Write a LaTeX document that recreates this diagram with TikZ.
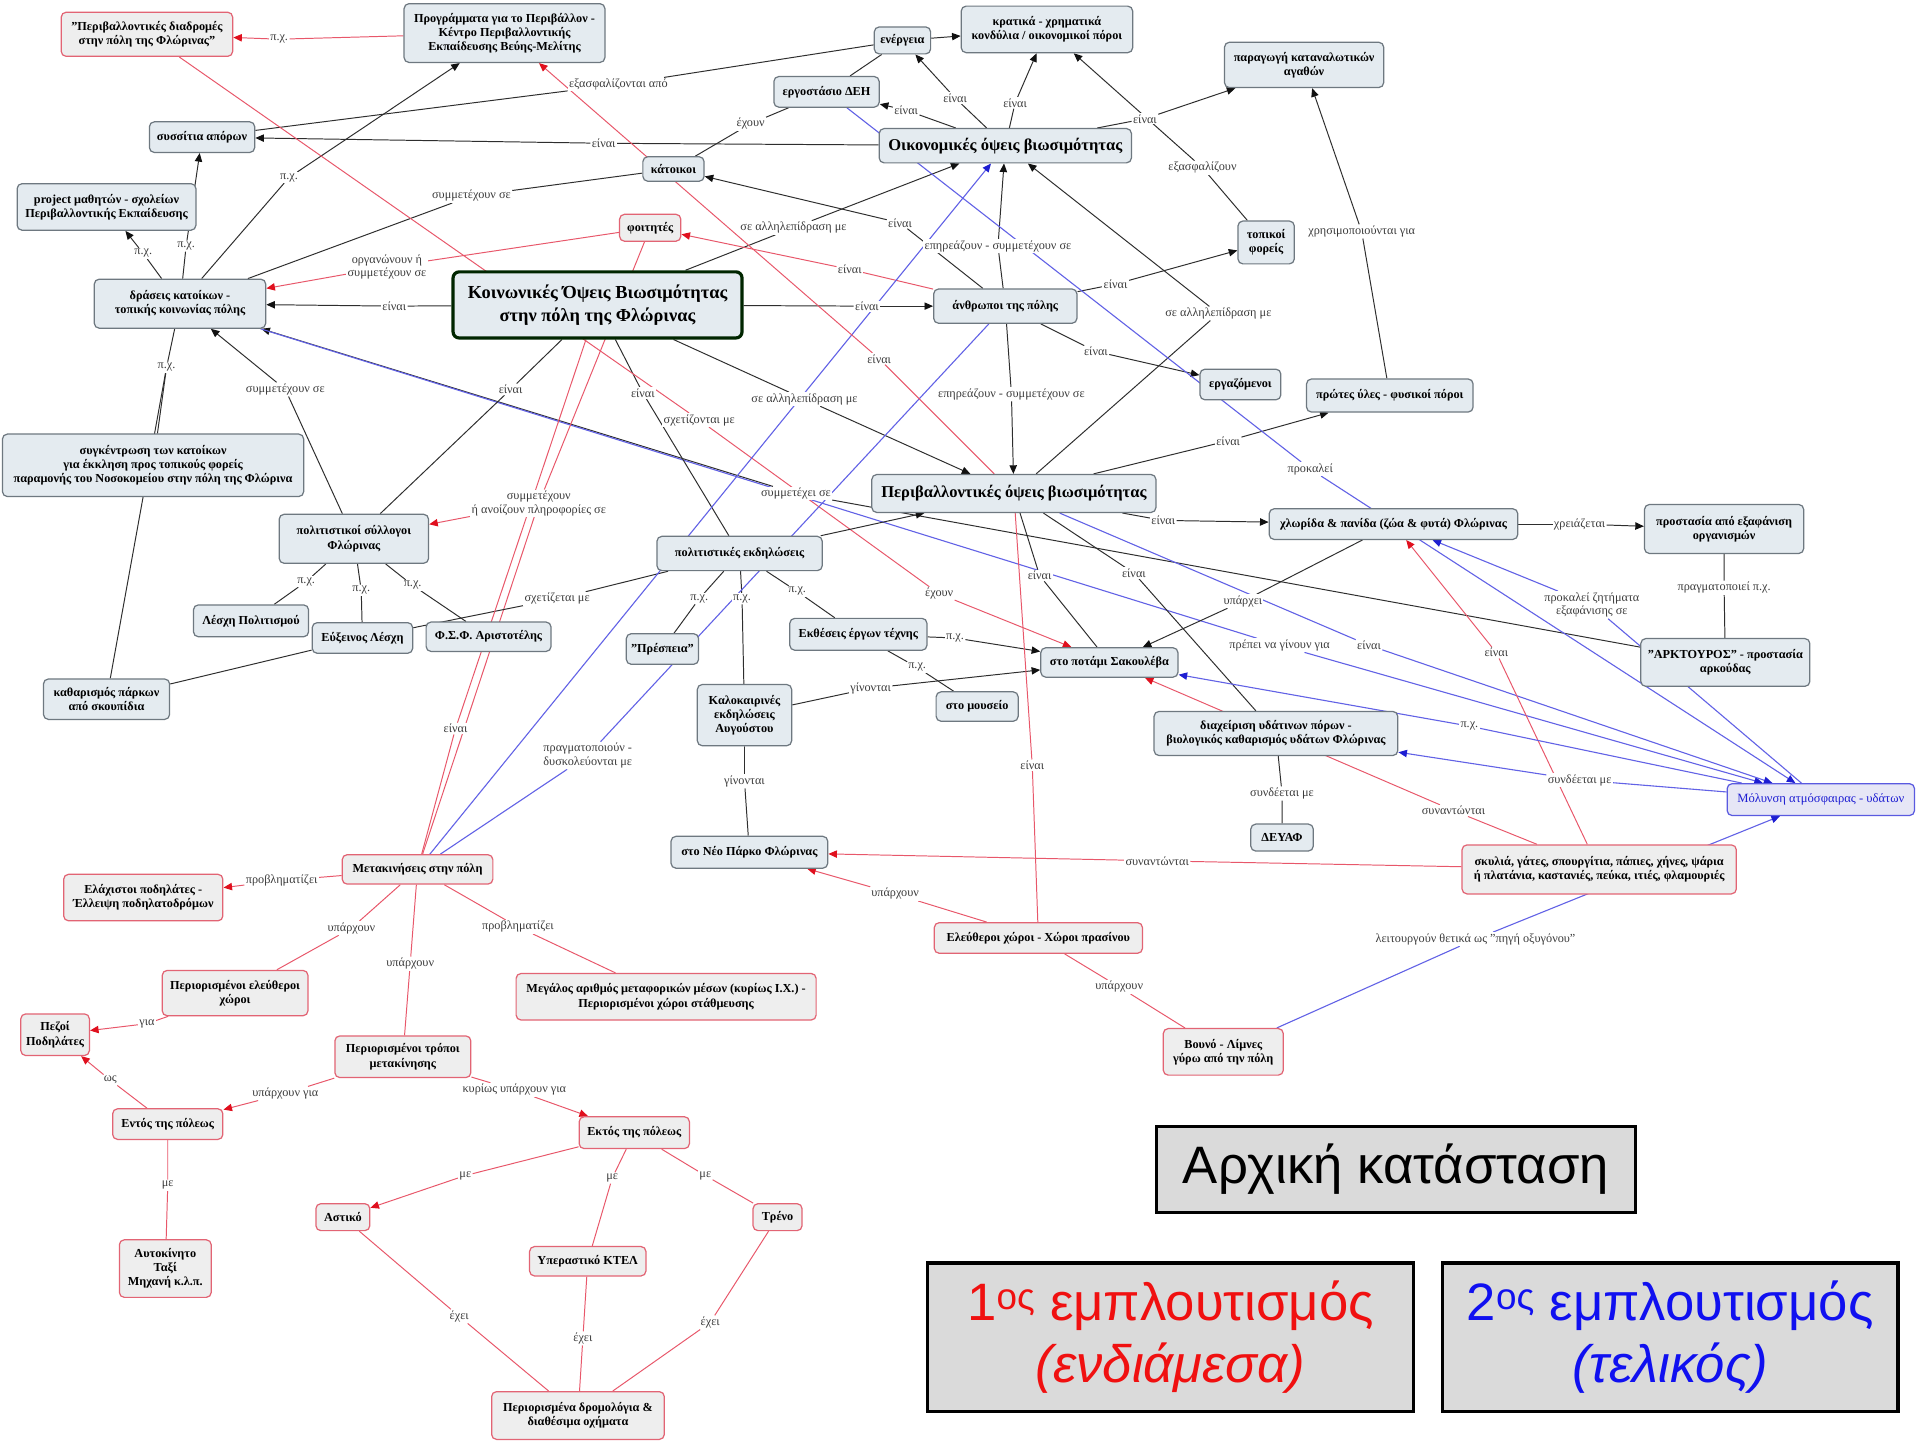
\documentclass[tikz,border=0pt]{standalone}
\usepackage{fontspec}
\setmainfont{Liberation Serif}
\newfontfamily\legendfont{Liberation Sans}
\usetikzlibrary{arrows.meta,backgrounds}

\pgfdeclarelayer{paper}
\pgfsetlayers{paper,background,main}

\definecolor{nodefill}{HTML}{E4EBF0}
\definecolor{nodefillr}{HTML}{EEEEEE}
\definecolor{nodeedge}{HTML}{6E7880}
\definecolor{noder}{HTML}{E26474}
\definecolor{nodeb}{HTML}{5A5AE0}
\definecolor{nodefillb}{HTML}{E6E6F6}
\definecolor{edgek}{HTML}{2E2E2E}
\definecolor{edger}{HTML}{E8576A}
\definecolor{edgeb}{HTML}{6262E6}
\definecolor{arrk}{HTML}{111111}
\definecolor{arrr}{HTML}{E0101E}
\definecolor{arrb}{HTML}{1E1ED2}
\definecolor{labtext}{HTML}{3C3C3C}
\definecolor{legred}{HTML}{F01010}
\definecolor{legblue}{HTML}{1010F0}
\definecolor{legfill}{HTML}{DADADA}

\tikzset{
  cn/.style={draw=nodeedge, fill=nodefill, rounded corners=4pt, line width=1pt,
    font=\bfseries\fontsize{10}{11.5}\selectfont, align=center, inner sep=2pt, text=black},
  rn/.style={cn, draw=noder, fill=nodefillr},
  bn/.style={cn, draw=nodeb, fill=nodefillb, text=arrb, font=\fontsize{10.3}{12}\selectfont},
  bignode/.style={cn, font=\bfseries\fontsize{13.5}{15}\selectfont},
  mainnode/.style={cn, draw=black!85!green, line width=2.6pt, rounded corners=5pt,
    font=\bfseries\fontsize{15}{18.5}\selectfont},
  lab/.style={fill=white, inner sep=1pt, font=\fontsize{10}{11}\selectfont, text=labtext, align=center},
  kl/.style={draw=edgek, line width=0.8pt},
  rl/.style={draw=edger, line width=0.8pt},
  bl/.style={draw=edgeb, line width=0.9pt},
  ka/.style={kl, -{Triangle[length=7pt,width=6pt,color=arrk]}},
  ra/.style={rl, -{Triangle[length=7pt,width=6pt,color=arrr]}},
  ba/.style={bl, -{Triangle[length=7pt,width=6pt,color=arrb]}},
  legbox/.style={draw=black, line width=2.6pt, fill=legfill, align=center,
    font=\legendfont\fontsize{43}{50}\selectfont, inner sep=4pt}
}

\begin{document}
\begin{tikzpicture}[x=1pt,y=-1pt]
\begin{pgfonlayer}{paper}
\fill[white] (0,0) rectangle (1568,1176);
\end{pgfonlayer}
\useasboundingbox (0,0) rectangle (1568,1176);

% ---------------- concepts ----------------
\node[rn, minimum width=140pt, minimum height=36pt] (diadromes) at (120,28) {"Περιβαλλοντικές διαδρομές\\στην πόλη της Φλώρινας"};
\node[cn, minimum width=164pt, minimum height=48pt] (progr) at (412,27) {Προγράμματα για το Περιβάλλον -\\Κέντρο Περιβαλλοντικής\\Εκπαίδευσης Βεύης-Μελίτης};
\node[cn, minimum width=46pt, minimum height=22pt] (energeia) at (737,33) {ενέργεια};
\node[cn, minimum width=140pt, minimum height=38pt] (kratika) at (855,24) {κρατικά - χρηματικά\\κονδύλια / οικονομικοί πόροι};
\node[cn, minimum width=130pt, minimum height=37pt] (paragogi) at (1065,53) {παραγωγή καταναλωτικών\\αγαθών};
\node[cn, minimum width=86pt, minimum height=25pt] (deh) at (675,75) {εργοστάσιο ΔΕΗ};
\node[cn, minimum width=86pt, minimum height=25pt] (syssitia) at (165,112) {συσσίτια απόρων};
\node[bignode, minimum width=206pt, minimum height=28pt] (oikon) at (821,119) {Οικονομικές όψεις βιωσιμότητας};
\node[cn, minimum width=50pt, minimum height=20pt] (katoikoi) at (550,138) {κάτοικοι};
\node[cn, minimum width=146pt, minimum height=38pt] (project) at (87,169) {project μαθητών - σχολείων\\Περιβαλλοντικής Εκπαίδευσης};
\node[rn, minimum width=50pt, minimum height=22pt] (foitites) at (531,186) {φοιτητές};
\node[cn, minimum width=46pt, minimum height=35pt] (topikoi) at (1034,198) {τοπικοί\\φορείς};
\node[cn, minimum width=140pt, minimum height=40pt] (draseis) at (147,248) {δράσεις κατοίκων -\\τοπικής κοινωνίας πόλης};
\node[mainnode, minimum width=236pt, minimum height=54pt] (main) at (488,249) {Κοινωνικές Όψεις Βιωσιμότητας\\στην πόλη της Φλώρινας};
\node[cn, minimum width=117pt, minimum height=28pt] (anthropoi) at (821,250) {άνθρωποι της πόλης};
\node[cn, minimum width=66pt, minimum height=25pt] (ergazomenoi) at (1013,314) {εργαζόμενοι};
\node[cn, minimum width=136pt, minimum height=27pt] (protes) at (1135,323) {πρώτες ύλες - φυσικοί πόροι};
\node[cn, minimum width=246pt, minimum height=51pt] (synkentrosi) at (125,380) {συγκέντρωση των κατοίκων\\για έκκληση προς τοπικούς φορείς\\παραμονής του Νοσοκομείου στην πόλη της Φλώρινα};
\node[bignode, minimum width=232pt, minimum height=31pt] (perival) at (828,403) {Περιβαλλοντικές όψεις βιωσιμότητας};
\node[cn, minimum width=203pt, minimum height=25pt] (chlorida) at (1138,428) {χλωρίδα \& πανίδα (ζώα \& φυτά) Φλώρινας};
\node[cn, minimum width=130pt, minimum height=40pt] (prostasia) at (1408,432) {προστασία από εξαφάνιση\\οργανισμών};
\node[cn, minimum width=122pt, minimum height=40pt] (syllogoi) at (289,440) {πολιτιστικοί σύλλογοι\\Φλώρινας};
\node[cn, minimum width=135pt, minimum height=28pt] (ekdiloseis) at (604,452) {πολιτιστικές εκδηλώσεις};
\node[cn, minimum width=94pt, minimum height=26pt] (lesxi) at (205,507) {Λέσχη Πολιτισμού};
\node[cn, minimum width=82pt, minimum height=25pt] (euxeinos) at (296,521) {Εύξεινος Λέσχη};
\node[cn, minimum width=102pt, minimum height=24pt] (fsf) at (399,520) {Φ.Σ.Φ. Αριστοτέλης};
\node[cn, minimum width=59pt, minimum height=25pt] (prespeia) at (541,530) {"Πρέσπεια"};
\node[cn, minimum width=112pt, minimum height=26pt] (ektheseis) at (701,518) {Εκθέσεις έργων τέχνης};
\node[cn, minimum width=112pt, minimum height=24pt] (potami) at (906,541) {στο ποτάμι Σακουλέβα};
\node[cn, minimum width=138pt, minimum height=39pt] (arktouros) at (1409,541) {"ΑΡΚΤΟΥΡΟΣ" - προστασία\\αρκούδας};
\node[cn, minimum width=67pt, minimum height=24pt] (mouseio) at (798,577) {στο μουσείο};
\node[cn, minimum width=77pt, minimum height=50pt] (kalokairines) at (608,584) {Καλοκαιρινές\\εκδηλώσεις\\Αυγούστου};
\node[cn, minimum width=103pt, minimum height=33pt] (katharismos) at (87,571) {καθαρισμός πάρκων\\από σκουπίδια};
\node[cn, minimum width=199pt, minimum height=36pt] (diaxeirisi) at (1042,599) {διαχείριση υδάτινων πόρων -\\βιολογικός καθαρισμός υδάτων Φλώρινας};
\node[bn, minimum width=153pt, minimum height=26pt] (molynsi) at (1487,653) {Μόλυνση ατμόσφαιρας - υδάτων};
\node[cn, minimum width=51pt, minimum height=22pt] (deyaf) at (1047,684) {ΔΕΥΑΦ};
\node[cn, minimum width=128pt, minimum height=26pt] (neopark) at (612,696) {στο Νέο Πάρκο Φλώρινας};
\node[rn, minimum width=123pt, minimum height=24pt] (metakiniseis) at (341,710) {Μετακινήσεις στην πόλη};
\node[rn, minimum width=224pt, minimum height=40pt] (skylia) at (1306,710) {σκυλιά, γάτες, σπουργίτια, πάπιες, χήνες, ψάρια\\ή πλατάνια, καστανιές, πεύκα, ιτιές, φλαμουριές};
\node[rn, minimum width=130pt, minimum height=38pt] (elaxistoi) at (117,733) {Ελάχιστοι ποδηλάτες -\\Έλλειψη ποδηλατοδρόμων};
\node[rn, minimum width=170pt, minimum height=25pt] (eleutheroi) at (848,766) {Ελεύθεροι χώροι - Χώροι πρασίνου};
\node[rn, minimum width=119pt, minimum height=37pt] (periorismenoi) at (192,811) {Περιορισμένοι ελεύθεροι\\χώροι};
\node[rn, minimum width=245pt, minimum height=38pt] (megalos) at (544,814) {Μεγάλος αριθμός μεταφορικών μέσων (κυρίως Ι.Χ.) -\\Περιορισμένοι χώροι στάθμευσης};
\node[rn, minimum width=56pt, minimum height=34pt] (pezoi) at (45,845) {Πεζοί\\Ποδηλάτες};
\node[rn, minimum width=98pt, minimum height=38pt] (vouno) at (999,859) {Βουνό - Λίμνες\\γύρω από την πόλη};
\node[rn, minimum width=111pt, minimum height=34pt] (tropoi) at (329,863) {Περιορισμένοι τρόποι\\μετακίνησης};
\node[rn, minimum width=90pt, minimum height=25pt] (entos) at (137,918) {Εντός της πόλεως};
\node[rn, minimum width=90pt, minimum height=26pt] (ektos) at (518,925) {Εκτός της πόλεως};
\node[rn, minimum width=44pt, minimum height=22pt] (astiko) at (280,994) {Αστικό};
\node[rn, minimum width=40pt, minimum height=22pt] (treno) at (635,994) {Τρένο};
\node[rn, minimum width=95pt, minimum height=24pt] (ktel) at (480,1030) {Υπεραστικό ΚΤΕΛ};
\node[rn, minimum width=75pt, minimum height=47pt] (taxi) at (135,1036) {Αυτοκίνητο\\Ταξί\\Μηχανή κ.λ.π.};
\node[rn, minimum width=141pt, minimum height=39pt] (dromologia) at (472,1156) {Περιορισμένα δρομολόγια \&\\διαθέσιμα οχήματα};

% ---------------- linking phrases ----------------
\node[lab] (lpxA) at (228,32) {π.χ.};
\node[lab] (lexasf) at (505,69) {εξασφαλίζονται από};
\node[lab] (leinaiSyss) at (493,117) {είναι};
\node[lab] (lexounDeh) at (613,101) {έχουν};
\node[lab] (leinaiDeh) at (740,90) {είναι};
\node[lab] (leinaiEnerg) at (780,80) {είναι};
\node[lab] (leinaiKrat) at (829,84) {είναι};
\node[lab] (leinaiParag) at (935,97) {είναι};
\node[lab] (lexasfalizoun) at (982,137) {εξασφαλίζουν};
\node[lab] (lxrisim) at (1112,189) {χρησιμοποιούνται για};
\node[lab] (lpxProgr) at (236,145) {π.χ.};
\node[lab] (lpxProj) at (117,207) {π.χ.};
\node[lab] (lpxSyss) at (152,201) {π.χ.};
\node[lab] (lsymmetKat) at (385,160) {συμμετέχουν σε};
\node[lab] (lalliledOik) at (648,186) {σε αλληλεπίδραση με};
\node[lab] (leinaiKat) at (735,182) {είναι};
\node[lab] (lepirea1) at (815,201) {επηρεάζουν - συμμετέχουν σε};
\node[lab] (lorgan) at (316,218) {οργανώνουν ή\\συμμετέχουν σε};
\node[lab] (leinaiFoit) at (694,220) {είναι};
\node[lab] (leinaiDrase) at (322,250) {είναι};
\node[lab] (leinaiAnthr) at (708,250) {είναι};
\node[lab] (leinaiTopik) at (911,232) {είναι};
\node[lab] (lalliledPer) at (995,256) {σε αλληλεπίδραση με};
\node[lab] (leinaiErgaz) at (895,287) {είναι};
\node[lab] (leinaiProgr) at (718,293) {είναι};
\node[lab] (lpxSynk) at (136,300) {π.χ.};
\node[lab] (lsymmetSyll) at (233,318) {συμμετέχουν σε};
\node[lab] (leinaiSyll) at (417,318) {είναι};
\node[lab] (leinaiEkd) at (525,321) {είναι};
\node[lab] (lalliledMain) at (657,326) {σε αλληλεπίδραση με};
\node[lab] (lepirea2) at (826,322) {επηρεάζουν - συμμετέχουν σε};
\node[lab] (lsxetiz) at (571,343) {σχετίζονται με};
\node[lab] (leinaiProtes) at (1003,360) {είναι};
\node[lab] (lprokalei) at (1070,383) {προκαλεί};
\node[lab] (lsymmetexei) at (650,403) {συμμετέχει σε};
\node[lab] (lanoig) at (440,411) {συμμετέχουν\\ή ανοίζουν πληροφορίες σε};
\node[lab] (leinaiChlor) at (950,425) {είναι};
\node[lab] (lxreiazetai) at (1290,428) {χρειάζεται};
\node[lab] (leinaiPotami) at (849,470) {είναι};
\node[lab] (leinaiDiax) at (926,468) {είναι};
\node[lab] (lpxLesxi) at (250,475) {π.χ.};
\node[lab] (lpxEux) at (295,482) {π.χ.};
\node[lab] (lpxFsf) at (337,478) {π.χ.};
\node[lab] (lpragmPx) at (1408,480) {πραγματοποιεί π.χ.};
\node[lab] (lexounPot) at (767,485) {έχουν};
\node[lab] (lsxetizetai) at (455,489) {σχετίζεται με};
\node[lab] (lpxPresp) at (571,489) {π.χ.};
\node[lab] (lpxKalok) at (606,489) {π.χ.};
\node[lab] (lpxEkth) at (651,483) {π.χ.};
\node[lab] (lyparxei) at (1015,491) {υπάρχει};
\node[lab] (lprokaleiZ) at (1300,494) {προκαλεί ζητήματα\\εξαφάνισης σε};
\node[lab] (lpxPotami) at (780,521) {π.χ.};
\node[lab] (lprepei) at (1045,527) {πρέπει να γίνουν για};
\node[lab] (leinaiMol) at (1118,527) {είναι};
\node[lab] (leinaiSkyl) at (1222,533) {είναι};
\node[lab] (lpxMous) at (749,545) {π.χ.};
\node[lab] (lginontai1) at (711,562) {γίνονται};
\node[lab] (lpxMol) at (1200,593) {π.χ.};
\node[lab] (leinaiMetak) at (372,595) {είναι};
\node[lab] (lpragm) at (480,617) {πραγματοποιούν -\\δυσκολεύονται με};
\node[lab] (leinaiEleuth) at (843,625) {είναι};
\node[lab] (lginontai2) at (608,638) {γίνονται};
\node[lab] (lsyndMol) at (1290,637) {συνδέεται με};
\node[lab] (lsyndDeyaf) at (1047,648) {συνδέεται με};
\node[lab] (lsynant1) at (1187,662) {συναντώνται};
\node[lab] (lsynant2) at (945,703) {συναντώνται};
\node[lab] (lprovl1) at (230,719) {προβληματίζει};
\node[lab] (lyparNeo) at (731,730) {υπάρχουν};
\node[lab] (lypar1) at (287,758) {υπάρχουν};
\node[lab] (lprovl2) at (423,757) {προβληματίζει};
\node[lab] (lleitourg) at (1205,767) {λειτουργούν θετικά ως "πηγή οξυγόνου"};
\node[lab] (lypar2) at (335,787) {υπάρχουν};
\node[lab] (lyparVouno) at (914,806) {υπάρχουν};
\node[lab] (lgia) at (120,836) {για};
\node[lab] (lws) at (90,882) {ως};
\node[lab] (lyparGia) at (233,893) {υπάρχουν για};
\node[lab] (lkyrios) at (420,890) {κυρίως υπάρχουν για};
\node[lab] (lmeTaxi) at (137,968) {με};
\node[lab] (lmeAst) at (380,960) {με};
\node[lab] (lmeKtel) at (500,962) {με};
\node[lab] (lmeTreno) at (576,960) {με};
\node[lab] (lexei1) at (375,1075) {έχει};
\node[lab] (lexei2) at (476,1093) {έχει};
\node[lab] (lexei3) at (580,1080) {έχει};

% ---------------- legend ----------------
\node[legbox, minimum width=391pt, minimum height=70pt] (leg0) at (1140,955) {Αρχική κατάσταση};
\node[legbox, text=legred, minimum width=397pt, minimum height=121pt] (leg1) at (956,1092) {1\textsuperscript{ος} εμπλουτισμός\\\textit{(ενδιάμεσα)}};
\node[legbox, text=legblue, minimum width=372pt, minimum height=121pt] (leg2) at (1364,1092) {2\textsuperscript{ος} εμπλουτισμός\\\textit{(τελικός)}};

% ---------------- connectors ----------------
\begin{pgfonlayer}{background}
% social aspects
\draw[kl] (main) -- (leinaiDrase); \draw[ka] (leinaiDrase) -- (draseis);
\draw[rl] (foitites) -- (lorgan); \draw[ra] (lorgan) -- (draseis);
\draw[kl] (draseis) -- (lpxProgr); \draw[ka] (lpxProgr) -- (progr);
\draw[kl] (draseis) -- (lpxProj); \draw[ka] (lpxProj) -- (project);
\draw[kl] (draseis) -- (lpxSyss); \draw[ka] (lpxSyss) -- (syssitia);
\draw[kl] (draseis) -- (lsymmetKat) -- (katoikoi);
\draw[kl] (draseis) -- (lpxSynk); \draw[kl] (lpxSynk) -- (synkentrosi); \draw[kl] (lpxSynk) -- (katharismos);
\draw[kl] (syllogoi) -- (lsymmetSyll); \draw[ka] (lsymmetSyll) -- (draseis);
\draw[kl] (arktouros) -- (lsymmetexei); \draw[ka] (lsymmetexei) -- (draseis);
\draw[bl] (draseis) -- (lprepei); \draw[ba] (lprepei) -- (molynsi);
\draw[rl] (progr) -- (lpxA); \draw[ra] (lpxA) -- (diadromes);
\draw[kl] (syssitia) -- (lexasf) -- (energeia);
\draw[kl] (deh) -- (energeia);
\draw[ka] (energeia) -- (kratika);
\draw[kl] (katoikoi) -- (lexounDeh) -- (deh);
% economic aspects
\draw[kl] (oikon) -- (leinaiSyss); \draw[ka] (leinaiSyss) -- (syssitia);
\draw[kl] (oikon) -- (leinaiDeh); \draw[ka] (leinaiDeh) -- (deh);
\draw[kl] (oikon) -- (leinaiEnerg); \draw[ka] (leinaiEnerg) -- (energeia);
\draw[kl] (oikon) -- (leinaiKrat); \draw[ka] (leinaiKrat) -- (kratika);
\draw[kl] (oikon) -- (leinaiParag); \draw[ka] (leinaiParag) -- (paragogi);
\draw[kl] (topikoi) -- (lexasfalizoun); \draw[ka] (lexasfalizoun) -- (kratika);
\draw[kl] (protes) -- (lxrisim); \draw[ka] (lxrisim) -- (paragogi);
\draw[kl] (main) -- (lalliledOik); \draw[ka] (lalliledOik) -- (oikon);
\draw[kl] (anthropoi) -- (leinaiKat); \draw[ka] (leinaiKat) -- (katoikoi);
\draw[kl] (anthropoi) -- (lepirea1); \draw[ka] (lepirea1) -- (oikon);
\draw[rl] (anthropoi) -- (leinaiFoit); \draw[ra] (leinaiFoit) -- (foitites);
\draw[kl] (main) -- (leinaiAnthr); \draw[ka] (leinaiAnthr) -- (anthropoi);
\draw[kl] (anthropoi) -- (leinaiTopik); \draw[ka] (leinaiTopik) -- (topikoi);
\draw[kl] (perival) -- (lalliledPer); \draw[ka] (lalliledPer) -- (oikon);
\draw[kl] (anthropoi) -- (leinaiErgaz); \draw[ka] (leinaiErgaz) -- (ergazomenoi);
\draw[kl] (main) -- (leinaiSyll) -- (syllogoi);
\draw[kl] (main) -- (leinaiEkd) -- (ekdiloseis);
\draw[kl] (main) -- (lalliledMain); \draw[ka] (lalliledMain) -- (perival);
\draw[kl] (anthropoi) -- (lepirea2); \draw[ka] (lepirea2) -- (perival);
\draw[rl] (diadromes) -- (lsxetiz) -- (lexounPot); \draw[ra] (lexounPot) -- (potami);
% environmental aspects
\draw[kl] (perival) -- (leinaiProtes); \draw[ka] (leinaiProtes) -- (protes);
\draw[bl] (deh) -- (lprokalei); \draw[ba] (lprokalei) -- (molynsi);
\draw[rl] (foitites) -- (lanoig) -- (metakiniseis); \draw[ra] (lanoig) -- (syllogoi);
\draw[kl] (perival) -- (leinaiChlor); \draw[ka] (leinaiChlor) -- (chlorida);
\draw[kl] (chlorida) -- (lxreiazetai); \draw[ka] (lxreiazetai) -- (prostasia);
\draw[kl] (perival) -- (leinaiPotami) -- (potami);
\draw[kl] (perival) -- (leinaiDiax) -- (diaxeirisi);
\draw[kl] (syllogoi) -- (lpxLesxi) -- (lesxi);
\draw[kl] (syllogoi) -- (lpxEux) -- (euxeinos);
\draw[kl] (syllogoi) -- (lpxFsf) -- (fsf);
\draw[kl] (prostasia) -- (lpragmPx) -- (arktouros);
\draw[kl] (ekdiloseis) -- (lsxetizetai) -- (euxeinos);
\draw[kl] (euxeinos) -- (katharismos);
\draw[kl] (ekdiloseis) -- (lpxPresp) -- (prespeia);
\draw[kl] (ekdiloseis) -- (lpxKalok) -- (kalokairines);
\draw[kl] (ekdiloseis) -- (lpxEkth) -- (ektheseis);
\draw[ka] (ekdiloseis) -- (perival);
\draw[kl] (chlorida) -- (lyparxei); \draw[ka] (lyparxei) -- (potami);
\draw[bl] (molynsi) -- (lprokaleiZ); \draw[ba] (lprokaleiZ) -- (chlorida);
\draw[kl] (ektheseis) -- (lpxPotami); \draw[ka] (lpxPotami) -- (potami);
\draw[kl] (ektheseis) -- (lpxMous) -- (mouseio);
\draw[bl] (perival) -- (leinaiMol); \draw[ba] (leinaiMol) -- (molynsi);
\draw[rl] (skylia) -- (leinaiSkyl); \draw[ra] (leinaiSkyl) -- (chlorida);
\draw[kl] (kalokairines) -- (lginontai1); \draw[ka] (lginontai1) -- (potami);
\draw[kl] (kalokairines) -- (lginontai2) -- (neopark);
\draw[bl] (molynsi) -- (lpxMol); \draw[ba] (lpxMol) -- (potami);
% mobility
\draw[rl] (metakiniseis) -- (leinaiMetak) -- (main);
\draw[bl] (anthropoi) -- (lpragm) -- (metakiniseis);
\draw[ba] (metakiniseis) -- (oikon);
\draw[rl] (eleutheroi) -- (leinaiEleuth) -- (perival);
\draw[rl] (perival) -- (leinaiProgr); \draw[ra] (leinaiProgr) -- (progr);
\draw[rl] (metakiniseis) -- (lprovl1); \draw[ra] (lprovl1) -- (elaxistoi);
\draw[rl] (metakiniseis) -- (lypar1) -- (periorismenoi);
\draw[rl] (metakiniseis) -- (lypar2) -- (tropoi);
\draw[rl] (metakiniseis) -- (lprovl2) -- (megalos);
\draw[rl] (skylia) -- (lsynant1); \draw[ra] (lsynant1) -- (potami);
\draw[rl] (skylia) -- (lsynant2); \draw[ra] (lsynant2) -- (neopark);
\draw[rl] (eleutheroi) -- (lyparNeo); \draw[ra] (lyparNeo) -- (neopark);
\draw[rl] (eleutheroi) -- (lyparVouno) -- (vouno);
\draw[bl] (vouno) -- (lleitourg); \draw[ba] (lleitourg) -- (molynsi);
\draw[bl] (molynsi) -- (lsyndMol); \draw[ba] (lsyndMol) -- (diaxeirisi);
\draw[kl] (diaxeirisi) -- (lsyndDeyaf) -- (deyaf);
\draw[rl] (periorismenoi) -- (lgia); \draw[ra] (lgia) -- (pezoi);
\draw[rl] (entos) -- (lws); \draw[ra] (lws) -- (pezoi);
\draw[rl] (tropoi) -- (lyparGia); \draw[ra] (lyparGia) -- (entos);
\draw[rl] (tropoi) -- (lkyrios); \draw[ra] (lkyrios) -- (ektos);
\draw[rl] (entos) -- (lmeTaxi) -- (taxi);
\draw[rl] (ektos) -- (lmeAst); \draw[ra] (lmeAst) -- (astiko);
\draw[rl] (ektos) -- (lmeKtel) -- (ktel);
\draw[rl] (ektos) -- (lmeTreno) -- (treno);
\draw[rl] (astiko) -- (lexei1) -- (dromologia);
\draw[rl] (ktel) -- (lexei2) -- (dromologia);
\draw[rl] (treno) -- (lexei3) -- (dromologia);
\end{pgfonlayer}
\end{tikzpicture}
\end{document}
